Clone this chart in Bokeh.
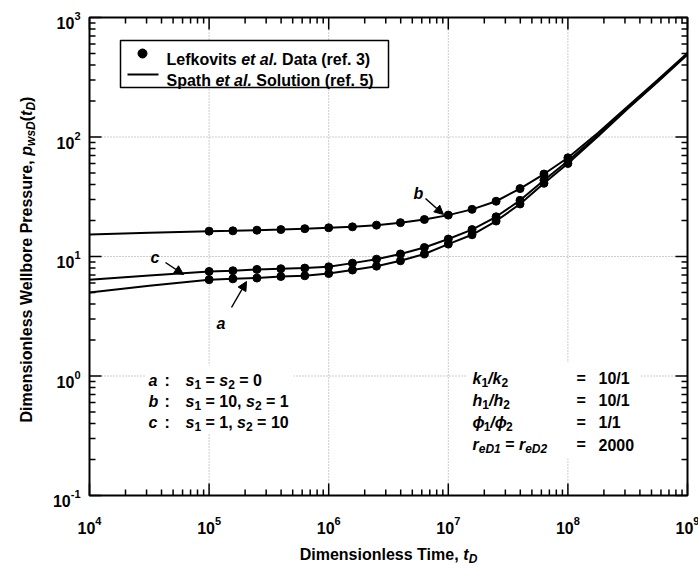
import numpy as np
from bokeh.plotting import figure
from bokeh.models import Range1d, Label, BoxAnnotation, Arrow, NormalHead
from bokeh.embed import file_html
from bokeh.resources import INLINE

# ---------------- data ----------------
td_data = [1e5, 1.58e5, 2.51e5, 3.98e5, 6.31e5, 1e6, 1.58e6, 2.51e6, 3.98e6, 6.31e6,
           1e7, 1.58e7, 2.51e7, 3.98e7, 6.31e7, 1e8]
pwd_a_data = [6.4, 6.5, 6.6, 6.8, 6.9, 7.2, 7.7, 8.3, 9.2, 10.5, 12.7, 15.2, 19.8, 27.5, 41.0, 60.0]
pwd_b_data = [16.3, 16.4, 16.6, 16.8, 17.1, 17.4, 17.7, 18.3, 19.2, 20.4, 22.2, 24.8, 29.0, 37.0, 49.0, 67.0]
pwd_c_data = [7.5, 7.6, 7.8, 7.9, 8.0, 8.2, 8.8, 9.5, 10.5, 11.9, 14.0, 16.8, 21.5, 29.5, 43.5, 63.0]

td_solution = [1e4, 3.16e4, 1e5, 1.58e5, 2.51e5, 3.98e5, 6.31e5, 1e6, 1.58e6, 2.51e6, 3.98e6, 6.31e6,
               1e7, 1.58e7, 2.51e7, 3.98e7, 6.31e7, 1e8, 1.78e8, 3.16e8, 5.62e8, 1e9]
pwd_a_solution = [5.0, 5.7, 6.4, 6.5, 6.6, 6.8, 6.9, 7.2, 7.7, 8.3, 9.2, 10.5, 12.7, 15.2, 19.8,
                  27.5, 41.0, 60.0, 101.0, 172.0, 288.0, 490.0]
pwd_b_solution = [15.3, 15.8, 16.3, 16.4, 16.6, 16.8, 17.1, 17.4, 17.7, 18.3, 19.2, 20.4, 22.2, 24.8,
                  29.0, 37.0, 49.0, 67.0, 108.0, 180.0, 300.0, 505.0]
pwd_c_solution = [6.4, 6.95, 7.5, 7.6, 7.8, 7.9, 8.0, 8.2, 8.8, 9.5, 10.5, 11.9, 14.0, 16.8, 21.5,
                  29.5, 43.5, 63.0, 104.0, 176.0, 292.0, 495.0]

x_decades = [4, 5, 6, 7, 8, 9]
y_decades = [-1, 0, 1, 2, 3]

# ---------------- layout constants ----------------
W, H = 698, 566
FL, FT, FR, FB = 89, 17, 687, 495          # axes box edges in canvas px
FW, FH = FR - FL, FB - FT
XL, XH, YL, YH = x_decades[0], x_decades[-1], y_decades[0], y_decades[-1]
DX = (XH - XL) / FW                         # decades per px
DY = (YH - YL) / FH
FONT = "Liberation Sans"


def X(px):
    return 10 ** (XL + (px - FL) * DX)


def Y(py):
    return 10 ** (YH - (py - FT) * DY)


def shift(xd, yd, dx=0.0, dy=0.0):
    """move a data point by dx px right and dy px down"""
    return xd * 10 ** (dx * DX), yd * 10 ** (-dy * DY)


BW = dict(zip(" !(),-./0123456789:=", [278, 333, 333, 333, 278, 333, 278, 278] + [556] * 10 + [333, 584]))
BW.update(zip("ABCDEFGHIJKLMNOPQRSTUVWXYZ",
              [722, 722, 722, 722, 667, 611, 778, 722, 278, 556, 722, 611, 833, 722, 778, 667, 778,
               722, 667, 611, 722, 667, 944, 667, 667, 611]))
BW.update(zip("abcdefghijklmnopqrstuvwxyz",
              [556, 611, 556, 611, 556, 333, 611, 611, 278, 278, 556, 278, 889, 611, 611, 611, 611,
               389, 556, 333, 611, 556, 778, 556, 556, 500]))
BW["ϕ"] = 700


def tw(s, size):
    return sum(BW.get(c, 600) for c in s) * size / 1000.0


def total(parts):
    return sum(tw(t, s) for t, s, _, _ in parts)


p = figure(width=W, height=H, x_axis_type="log", y_axis_type="log",
           x_range=Range1d(X(0), X(W)), y_range=Range1d(Y(H), Y(0)),
           x_axis_location=None, y_axis_location=None,
           output_backend="svg", toolbar_location=None, min_border=0)
p.background_fill_color = "white"
p.border_fill_color = "white"
p.outline_line_color = None
p.xgrid.visible = False
p.ygrid.visible = False

xmaj = [10.0 ** k for k in x_decades]
ymaj = [10.0 ** k for k in y_decades]
xmin = [m * 10.0 ** k for k in x_decades[:-1] for m in range(2, 10)]
ymin = [m * 10.0 ** k for k in y_decades[:-1] for m in range(2, 10)]
x_lo, x_hi, y_lo, y_hi = xmaj[0], xmaj[-1], ymaj[0], ymaj[-1]

# ---------------- grid (dotted, decades) ----------------
gx = xmaj[1:-1]
gy = ymaj[1:-1]
p.segment(x0=gx, y0=[y_lo] * len(gx), x1=gx, y1=[y_hi] * len(gx),
          line_color="#9a9a9a", line_dash="1 2", line_width=1, level="image")
p.segment(x0=[x_lo] * len(gy), y0=gy, x1=[x_hi] * len(gy), y1=gy,
          line_color="#9a9a9a", line_dash="1 2", line_width=1, level="image")

# ---------------- ticks (inside, all four sides) ----------------
for ticks, L in ((xmaj, 12), (xmin, 6)):
    n = len(ticks)
    p.segment(x0=ticks, y0=[y_lo] * n, x1=ticks, y1=[shift(1, y_lo, 0, -L)[1]] * n,
              line_color="black", line_width=1.5)
    p.segment(x0=ticks, y0=[y_hi] * n, x1=ticks, y1=[shift(1, y_hi, 0, L)[1]] * n,
              line_color="black", line_width=1.5)
for ticks, L in ((ymaj, 12), (ymin, 6)):
    n = len(ticks)
    p.segment(x0=[x_lo] * n, y0=ticks, x1=[shift(x_lo, 1, L, 0)[0]] * n, y1=ticks,
              line_color="black", line_width=1.5)
    p.segment(x0=[x_hi] * n, y0=ticks, x1=[shift(x_hi, 1, -L, 0)[0]] * n, y1=ticks,
              line_color="black", line_width=1.5)

p.add_layout(BoxAnnotation(left=x_lo, right=x_hi, bottom=y_lo, top=y_hi, fill_alpha=0,
                           line_color="black", line_alpha=1, line_width=2, level="overlay"))


# ---------------- text helper ----------------
def put(xd, yd, parts, angle=0):
    pos = 0.0
    for txt, size, italic, sh in parts:
        lead = len(txt) - len(txt.lstrip(" "))
        t = txt.strip(" ")
        off = pos + tw(" " * lead, size)
        if t:
            if angle == 0:
                x, y = shift(xd, yd, off, sh)
            else:
                x, y = shift(xd, yd, sh, -off)
            kw = dict(x=x, y=y, text=t, text_font=FONT, text_font_size=f"{size}px",
                      text_font_style="bold italic" if italic else "bold",
                      text_baseline="alphabetic", text_align="left", text_color="black")
            if angle:
                kw["angle"] = np.pi / 2
            p.add_layout(Label(**kw))
        pos += tw(txt, size)
    return pos


# ---------------- tick labels ----------------
for k, t in zip(x_decades, xmaj):
    parts = [("10", 16, False, 0), (str(k), 11, False, -7)]
    put(shift(t, 1, -total(parts) / 2, 0)[0], Y(527), parts)
for k, t in zip(y_decades, ymaj):
    parts = [("10", 16, False, 0), (str(k), 11, False, -7)]
    put(X(80 - total(parts)), shift(1, t, 0, 5.7)[1], parts)

# ---------------- data marks ----------------
for ys in (pwd_a_solution, pwd_b_solution, pwd_c_solution):
    p.line(td_solution, ys, line_color="black", line_width=2)
for ys in (pwd_a_data, pwd_b_data, pwd_c_data):
    p.scatter(td_data, ys, size=8, color="black")

# ---------------- legend ----------------
p.add_layout(BoxAnnotation(left=X(120), right=X(388), top=Y(40), bottom=Y(87), level="underlay",
                           fill_color="white", fill_alpha=1, line_color="black", line_alpha=1,
                           line_width=1.5))
p.scatter([X(142)], [Y(53)], size=9, color="black")
p.line([X(127), X(158)], [Y(74), Y(74)], line_color="black", line_width=2)
put(X(166), Y(59), [("Lefkovits ", 16, False, 0), ("et al.", 16, True, 0), (" Data (ref. 3)", 16, False, 0)])
put(X(166), Y(80), [("Spath ", 16, False, 0), ("et al.", 16, True, 0), (" Solution (ref. 5)", 16, False, 0)])

# ---------------- curve annotations ----------------
put(X(413), Y(193), [("b", 16, True, 0)])
put(X(150), Y(257), [("c", 16, True, 0)])
put(X(216), Y(323), [("a", 16, True, 0)])
for (x0, y0, x1, y1) in ((425, 198, 443, 214), (165, 262, 183, 274), (231, 307, 246, 281)):
    p.add_layout(Arrow(end=NormalHead(size=9, fill_color="black", line_color="black"),
                       x_start=X(x0), y_start=Y(y0), x_end=X(x1), y_end=Y(y1),
                       line_color="black", line_width=1.5))

# ---------------- parameter blocks ----------------
p.add_layout(BoxAnnotation(left=X(145), right=X(293), top=Y(365), bottom=Y(433), level="underlay",
                           fill_color="white", fill_alpha=1, line_alpha=0))
p.add_layout(BoxAnnotation(left=X(466), right=X(640), top=Y(362), bottom=Y(458), level="underlay",
                           fill_color="white", fill_alpha=1, line_alpha=0))

rows_left = [
    ("a", [("s", 16, True, 0), ("1", 12, False, 4), (" = ", 16, False, 0), ("s", 16, True, 0),
           ("2", 12, False, 4), (" = 0", 16, False, 0)]),
    ("b", [("s", 16, True, 0), ("1", 12, False, 4), (" = 10, ", 16, False, 0), ("s", 16, True, 0),
           ("2", 12, False, 4), (" = 1", 16, False, 0)]),
    ("c", [("s", 16, True, 0), ("1", 12, False, 4), (" = 1, ", 16, False, 0), ("s", 16, True, 0),
           ("2", 12, False, 4), (" = 10", 16, False, 0)]),
]
for i, (letter, expr) in enumerate(rows_left):
    yb = Y(380 + 21 * i)
    put(X(148), yb, [(letter, 16, True, 0)])
    put(X(164), yb, [(":", 16, False, 0)])
    put(X(185), yb, expr)

rows_right = [
    ([("k", 16, True, 0), ("1", 12, False, 4), ("/", 16, True, 0), ("k", 16, True, 0), ("2", 12, False, 4)], "10/1"),
    ([("h", 16, True, 0), ("1", 12, False, 4), ("/", 16, True, 0), ("h", 16, True, 0), ("2", 12, False, 4)], "10/1"),
    ([("ϕ", 16, True, 0), ("1", 12, False, 4), ("/", 16, True, 0), ("ϕ", 16, True, 0), ("2", 12, False, 4)], "1/1"),
    ([("r", 16, True, 0), ("eD1", 12, True, 4), (" = ", 16, False, 0), ("r", 16, True, 0), ("eD2", 12, True, 4)], "2000"),
]
for i, (expr, val) in enumerate(rows_right):
    yb = Y(378 + 22 * i)
    put(X(472), yb, expr)
    put(X(576), yb, [("=", 16, False, 0)])
    put(X(598), yb, [(val, 16, False, 0)])

# ---------------- axis titles ----------------
xt_parts = [("Dimensionless Time, ", 16, False, 0), ("t", 16, True, 0), ("D", 12, True, 4)]
put(X((FL + FR) / 2 - total(xt_parts) / 2), Y(554), xt_parts)
yt_parts = [("Dimensionless Wellbore Pressure, ", 16, False, 0), ("p", 16, True, 0), ("wsD", 12, True, 4),
            ("(", 16, False, 0), ("t", 16, True, 0), ("D", 12, True, 4), (")", 16, False, 0)]
put(X(26), Y(259 + total(yt_parts) / 2), yt_parts, angle=90)

open("out.html", "w").write(file_html(p, INLINE))
